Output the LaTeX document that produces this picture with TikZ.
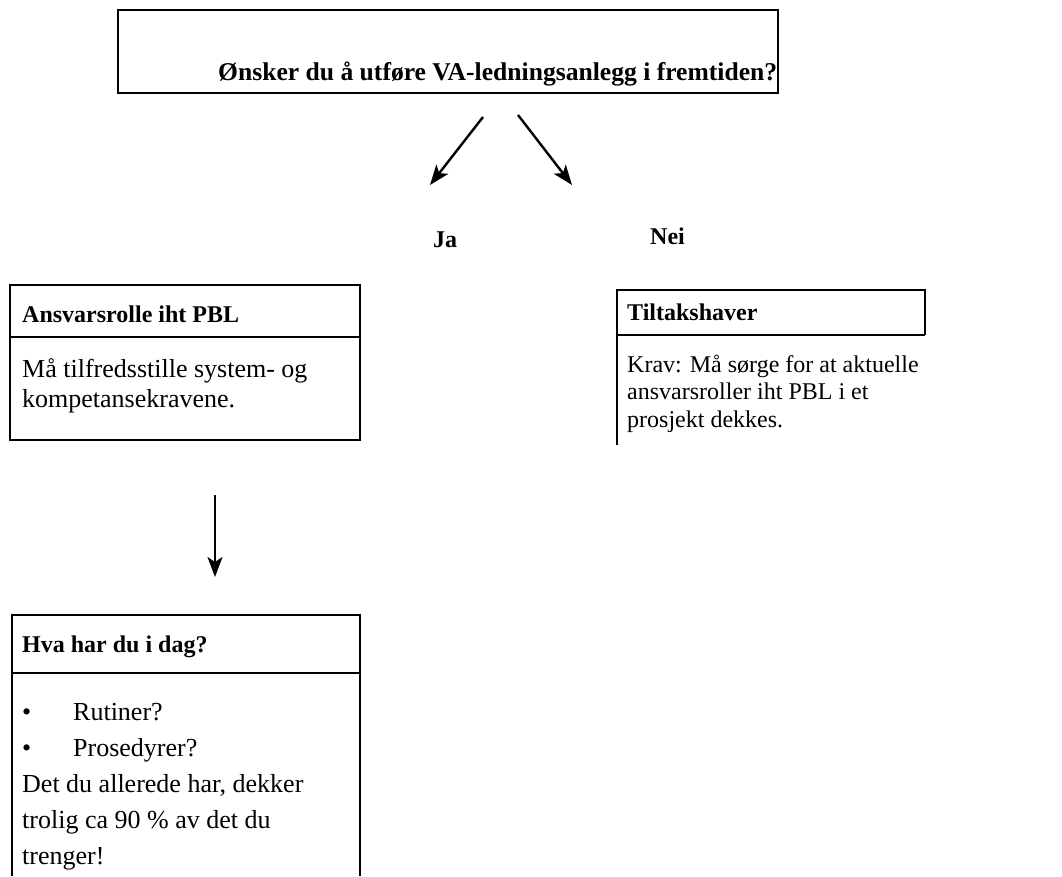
\documentclass[tikz,border=0pt]{standalone}
\usepackage{fontspec}
\setmainfont{Liberation Serif}
\usetikzlibrary{positioning,arrows.meta}
\tikzstyle{chart} = [x = 1pt, y = -1pt, every node/.style={inner sep=0pt}]
\tikzstyle{boxLine} = [color=black, line width=1.3pt]
\tikzstyle{headText} = [font=\fontsize{24}{30}\selectfont\bfseries, anchor=base west]
\tikzstyle{bodyText} = [font=\fontsize{26}{30}\selectfont, anchor=base west, align=left]
\tikzstyle{arrowLine} = [line width=2.4pt, -{Stealth[length=20pt, width=15pt, inset=5pt]}]
\newcommand{\headBox}[5]{\draw [boxLine] (#1, #2) rectangle (#3, #4); \draw [boxLine] (#1, #5) -- (#3, #5);}
\newcommand{\openBox}[4]{\draw [boxLine] (#1, 876) -- (#1, #2) -- (#3, #2) -- (#3, 876); \draw [boxLine] (#1, #4) -- (#3, #4);}
\newcommand{\punkt}{\makebox[51pt][l]{\textbullet}}

\begin{document}
\begin{tikzpicture}[chart]
  \useasboundingbox (0, 0) rectangle (1062, 876);
  % question
  \draw [boxLine] (118, 10) rectangle (778, 93);
  \node [headText, font=\fontsize{25.6}{30}\selectfont\bfseries] (question) at (218, 80) {Ønsker du å utføre VA-ledningsanlegg i fremtiden?};
  \node [headText] (ja) at (433, 247) {Ja};
  \node [headText] (nei) at (650, 244) {Nei};
  % left
  \headBox{10}{285}{360}{440}{337}
  \node [headText] (ansvar) at (22, 322) {Ansvarsrolle iht PBL};
  \node [bodyText] (ansvarTekst) at (22, 407) {Må tilfredsstille system- og\\kompetansekravene.};
  % right
  \draw [boxLine] (617, 445) -- (617, 290) -- (925, 290) -- (925, 335);
  \draw [boxLine] (617, 335) -- (925, 335);
  \node [headText] (tiltak) at (627, 320) {Tiltakshaver};
  \node [bodyText, font=\fontsize{24}{27.5}\selectfont] (tiltakTekst) at (627, 427) {Krav: Må sørge for at aktuelle\\ansvarsroller iht PBL i et\\prosjekt dekkes.};
  % bottom
  \openBox{12}{615}{360}{673}
  \node [headText] (idag) at (22, 652) {Hva har du i dag?};
  \node [bodyText, font=\fontsize{26}{36}\selectfont] (idagTekst) at (22, 864)
    {\punkt Rutiner?\\\punkt Prosedyrer?\\Det du allerede har, dekker\\trolig ca 90 \% av det du\\trenger!};
  % arrows
  \coordinate (jaFra) at (483, 117);
  \coordinate (jaTil) at (430, 185);
  \coordinate (neiFra) at (518, 115);
  \coordinate (neiTil) at (572, 185);
  \coordinate (nedFra) at (215, 495);
  \coordinate (nedTil) at (215, 577);
  \draw [arrowLine] (jaFra) -- (jaTil);
  \draw [arrowLine] (neiFra) -- (neiTil);
  \draw [arrowLine] (nedFra) -- (nedTil);
\end{tikzpicture}
\end{document}
